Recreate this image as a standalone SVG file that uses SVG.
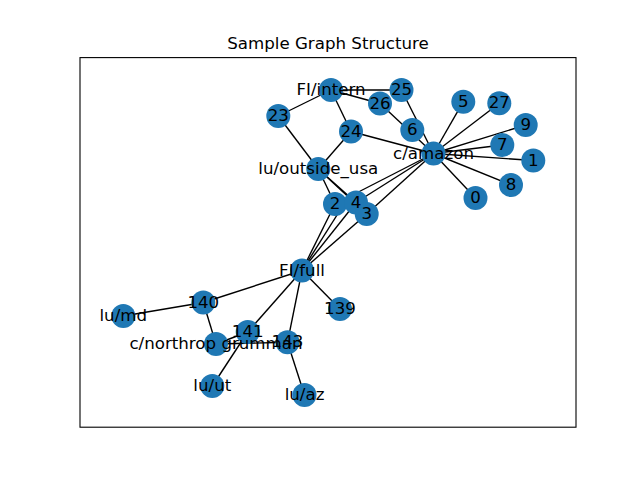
<svg xmlns="http://www.w3.org/2000/svg" width="640" height="480" viewBox="0 0 640 480">
<style>
.e{stroke:#000;stroke-width:1.39;fill:none}
.n circle{fill:#1f78b4}
.n text{font-family:"DejaVu Sans",sans-serif;font-size:16.67px;text-anchor:middle;fill:#000}
.t{font-family:"DejaVu Sans",sans-serif;font-size:16.67px;text-anchor:middle;fill:#000}
</style>
<rect x="0" y="0" width="640" height="480" fill="#fff"/>
<rect x="80" y="57.6" width="496" height="369.6" fill="none" stroke="#000" stroke-width="1.1"/>
<text class="t" x="328" y="49.3">Sample Graph Structure</text>
<g id="edges">
<line class="e" x1="331" y1="90" x2="401.5" y2="90"/>
<line class="e" x1="331" y1="90" x2="380" y2="103.5"/>
<line class="e" x1="331" y1="90" x2="278.3" y2="116"/>
<line class="e" x1="331" y1="90" x2="351" y2="131.5"/>
<line class="e" x1="401.5" y1="90" x2="433.5" y2="153.5"/>
<line class="e" x1="380" y1="103.5" x2="433.5" y2="153.5"/>
<line class="e" x1="351" y1="131.5" x2="433.5" y2="153.5"/>
<line class="e" x1="351" y1="131.5" x2="318.3" y2="169"/>
<line class="e" x1="278.3" y1="116" x2="318.3" y2="169"/>
<line class="e" x1="433.5" y1="153.5" x2="463.3" y2="101.7"/>
<line class="e" x1="433.5" y1="153.5" x2="499.3" y2="103.3"/>
<line class="e" x1="433.5" y1="153.5" x2="525.7" y2="125"/>
<line class="e" x1="433.5" y1="153.5" x2="502.3" y2="145"/>
<line class="e" x1="433.5" y1="153.5" x2="533.3" y2="160.5"/>
<line class="e" x1="433.5" y1="153.5" x2="511" y2="185"/>
<line class="e" x1="433.5" y1="153.5" x2="475.5" y2="198"/>
<line class="e" x1="433.5" y1="153.5" x2="335" y2="204"/>
<line class="e" x1="433.5" y1="153.5" x2="356" y2="202.5"/>
<line class="e" x1="433.5" y1="153.5" x2="366.7" y2="214"/>
<line class="e" x1="318.3" y1="169" x2="335" y2="204"/>
<line class="e" x1="318.3" y1="169" x2="356" y2="202.5"/>
<line class="e" x1="318.3" y1="169" x2="366.7" y2="214"/>
<line class="e" x1="302" y1="270.5" x2="335" y2="204"/>
<line class="e" x1="302" y1="270.5" x2="344" y2="204"/>
<line class="e" x1="302" y1="270.5" x2="356" y2="202.5"/>
<line class="e" x1="302" y1="270.5" x2="366.7" y2="214"/>
<line class="e" x1="302" y1="270.5" x2="203.3" y2="302.5"/>
<line class="e" x1="302" y1="270.5" x2="340" y2="309"/>
<line class="e" x1="302" y1="270.5" x2="247.7" y2="332"/>
<line class="e" x1="302" y1="270.5" x2="287.5" y2="342.3"/>
<line class="e" x1="203.3" y1="302.5" x2="123.3" y2="316"/>
<line class="e" x1="203.3" y1="302.5" x2="216" y2="344"/>
<line class="e" x1="216" y1="344" x2="287.5" y2="342.3"/>
<line class="e" x1="216" y1="344" x2="247.7" y2="332"/>
<line class="e" x1="247.7" y1="332" x2="212.3" y2="386"/>
<line class="e" x1="287.5" y1="342.3" x2="304.5" y2="395"/>
</g>
<g id="n-fi-intern" class="n"><circle cx="331" cy="90" r="12"/></g>
<g id="n-25" class="n"><circle cx="401.5" cy="90" r="12"/></g>
<g id="n-26" class="n"><circle cx="380" cy="103.5" r="12"/></g>
<g id="n-23" class="n"><circle cx="278.3" cy="116" r="12"/></g>
<g id="n-24" class="n"><circle cx="351" cy="131.5" r="12"/></g>
<g id="n-6" class="n"><circle cx="412.3" cy="130" r="12"/></g>
<g id="n-5" class="n"><circle cx="463.3" cy="101.7" r="12"/></g>
<g id="n-27" class="n"><circle cx="499.3" cy="103.3" r="12"/></g>
<g id="n-9" class="n"><circle cx="525.7" cy="125" r="12"/></g>
<g id="n-7" class="n"><circle cx="502.3" cy="145" r="12"/></g>
<g id="n-1" class="n"><circle cx="533.3" cy="160.5" r="12"/></g>
<g id="n-8" class="n"><circle cx="511" cy="185" r="12"/></g>
<g id="n-0" class="n"><circle cx="475.5" cy="198" r="12"/></g>
<g id="n-c-amazon" class="n"><circle cx="433.5" cy="153.5" r="12"/></g>
<g id="n-lu-outside-usa" class="n"><circle cx="318.3" cy="169" r="12"/></g>
<g id="n-2" class="n"><circle cx="335" cy="204" r="12"/></g>
<g id="n-4" class="n"><circle cx="356" cy="202.5" r="12"/></g>
<g id="n-3" class="n"><circle cx="366.7" cy="214" r="12"/></g>
<g id="n-fi-full" class="n"><circle cx="302" cy="270.5" r="12"/></g>
<g id="n-140" class="n"><circle cx="203.3" cy="302.5" r="12"/></g>
<g id="n-lu-md" class="n"><circle cx="123.3" cy="316" r="12"/></g>
<g id="n-139" class="n"><circle cx="340" cy="309" r="12"/></g>
<g id="n-141" class="n"><circle cx="247.7" cy="332" r="12"/></g>
<g id="n-c-northrop" class="n"><circle cx="216" cy="344" r="12"/></g>
<g id="n-143" class="n"><circle cx="287.5" cy="342.3" r="12"/></g>
<g id="n-lu-ut" class="n"><circle cx="212.3" cy="386" r="12"/></g>
<g id="n-lu-az" class="n"><circle cx="304.5" cy="395" r="12"/></g>
<g id="labels" class="n">
<text x="331" y="95">FI/intern</text>
<text x="401.5" y="95">25</text>
<text x="380" y="108.5">26</text>
<text x="278.3" y="121">23</text>
<text x="351" y="136.5">24</text>
<text x="412.3" y="135">6</text>
<text x="463.3" y="106.7">5</text>
<text x="499.3" y="108.3">27</text>
<text x="525.7" y="130">9</text>
<text x="502.3" y="150">7</text>
<text x="533.3" y="165.5">1</text>
<text x="511" y="190">8</text>
<text x="475.5" y="203">0</text>
<text x="433.5" y="158.5">c/amazon</text>
<text x="318.3" y="174">lu/outside_usa</text>
<text x="335" y="209">2</text>
<text x="356" y="207.5">4</text>
<text x="366.7" y="219">3</text>
<text x="302" y="275.5">FI/full</text>
<text x="203.3" y="307.5">140</text>
<text x="123.3" y="321">lu/md</text>
<text x="340" y="314">139</text>
<text x="247.7" y="337">141</text>
<text x="216" y="349">c/northrop grumman</text>
<text x="287.5" y="347.3">143</text>
<text x="212.3" y="391">lu/ut</text>
<text x="304.5" y="400">lu/az</text>
</g>
</svg>
